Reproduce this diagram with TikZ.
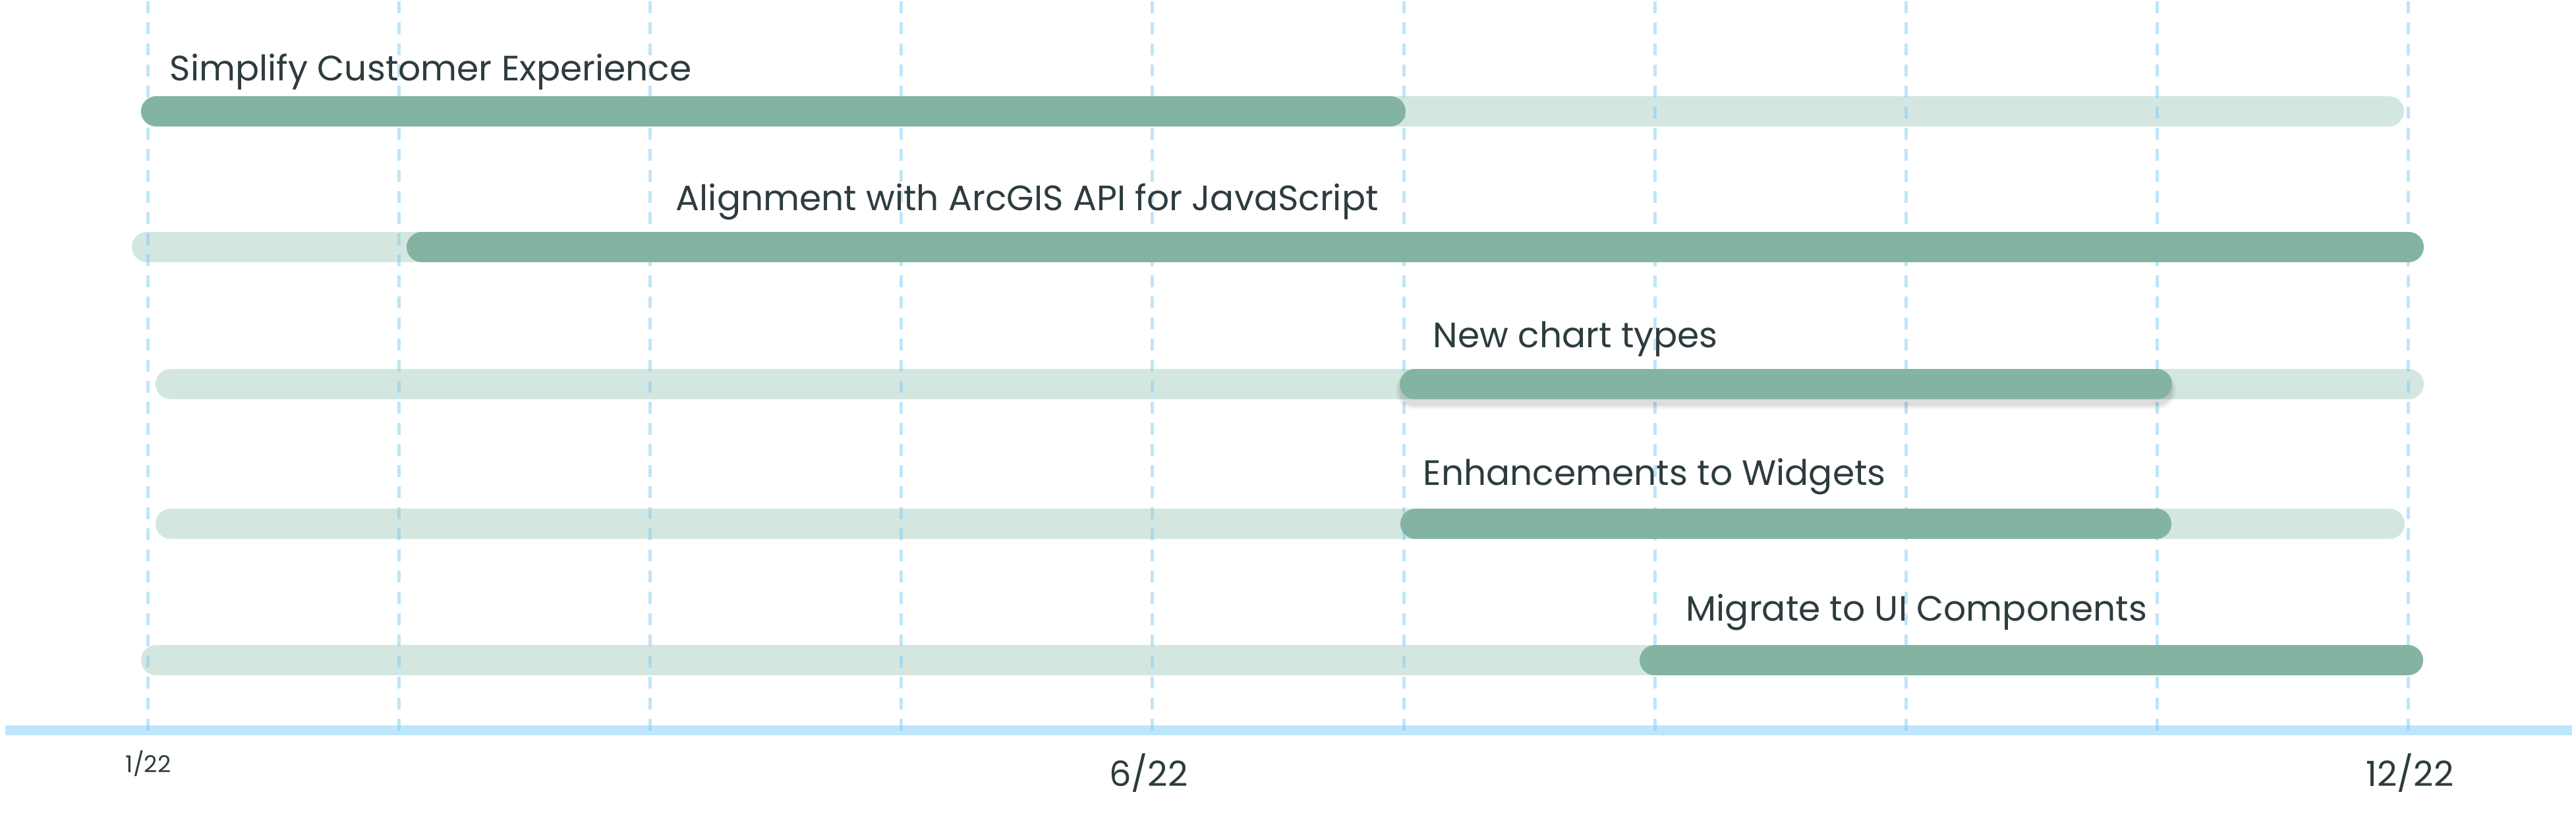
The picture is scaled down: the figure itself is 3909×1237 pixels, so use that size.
\documentclass[tikz,border=0pt]{standalone}
\usepackage{fontspec}
\setmainfont{Poppins}
\definecolor{barDark}{HTML}{83B4A1}
\definecolor{barLight}{HTML}{D4E6E0}
\definecolor{gridBlue}{HTML}{7FCBF4}
\definecolor{axisBlue}{HTML}{BEE6FB}
\definecolor{labelInk}{HTML}{2D3C3E}
\begin{document}
\begin{tikzpicture}[x=0.01cm, y=-0.01cm,
  track/.style={line width=0.46cm, line cap=round, barLight},
  done/.style={line width=0.46cm, line cap=round, barDark},
  gridline/.style={gridBlue, opacity=0.5, line width=0.05cm, dash pattern=on 0.18cm off 0.14cm},
  task/.style={anchor=base west, inner sep=0pt, text=labelInk, font=\fontsize{15.2}{18}\selectfont},
  month/.style={anchor=base, inner sep=0pt, text=labelInk, font=\fontsize{15}{18}\selectfont}]
  \useasboundingbox (0,0) rectangle (3909,1237);

  % Background tracks
  \draw[track] (237,169) -- (3625,169);
  \draw[track] (223,375) -- (1000,375);
  \draw[track] (259,583) -- (3655,583);
  \draw[track] (259,795) -- (3626,795);
  \draw[track] (237,1002) -- (2600,1002);

  % Time axis
  \draw[axisBlue, line width=0.15cm] (8,1108) -- (3903,1108);

  % Month grid
  \foreach \i in {0,...,9}
    \draw[gridline] (224+381.2*\i,2) -- (224+381.2*\i,1111);

  % Progress bars
  \draw[done] (237,169) -- (2110,169);
  \draw[done] (640,375) -- (3655,375);
  \foreach \w/\o in {0.60/0.02, 0.56/0.03, 0.52/0.04, 0.48/0.05}
    \draw[line width=\w cm, line cap=round, black, opacity=\o] (2147,592) -- (3273,592);
  \draw[done] (2147,583) -- (3273,583);
  \draw[done] (2148,795) -- (3272,795);
  \draw[done] (2511,1002) -- (3654,1002);

  % Task labels
  \node[task] (simplify) at (257,123) {Simplify Customer Experience};
  \node[task] (align) at (1025,320) {Alignment with ArcGIS API for JavaScript};
  \node[task] (charts) at (2174,528) {New chart types};
  \node[task] (widgets) at (2159,737) {Enhancements to Widgets};
  \node[task] (migrate) at (2558,942) {Migrate to UI Components};

  % Axis labels
  \node[month, font=\fontsize{10}{12}\selectfont] (m1) at (225,1172) {1/22};
  \node[month] (m6) at (1743,1193) {6/22};
  \node[month] (m12) at (3657,1193) {12/22};
\end{tikzpicture}
\end{document}
